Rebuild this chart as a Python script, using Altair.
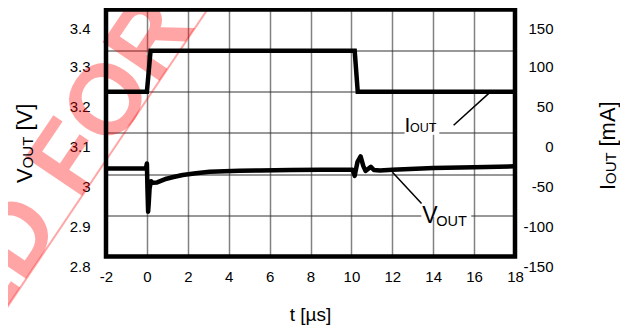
import altair as alt
import pandas as pd

FONT = "Liberation Sans"

# ---- data ----
t_iout = [-2.0, 0.0, 0.18, 10.16, 10.31, 18.0]
iout_ma = [50, 50, 100, 100, 50, 50]

t_vout = [-2.0, -0.05, 0.0, 0.03, 0.06, 0.09, 0.13, 0.2, 0.28, 0.5, 0.96, 1.3,
          1.75, 2.4, 3.07, 4.53, 5.51, 7.0, 8.5, 10.06, 10.16, 10.3, 10.45,
          10.58, 10.69, 10.8, 10.95, 11.1, 11.4, 12.0, 14.0, 16.0, 18.0]
vout_v = [3.014, 3.014, 3.026, 2.96, 2.909, 2.93, 2.965, 2.983, 2.979, 2.98,
          2.989, 2.993, 2.998, 3.002, 3.006, 3.008, 3.009, 3.010, 3.011, 3.0105,
          2.996, 3.03, 3.043, 3.02, 3.008, 3.012, 3.018, 3.01, 3.009, 3.011,
          3.015, 3.017, 3.019]

x_ticks = [-2, 0, 2, 4, 6, 8, 10, 12, 14, 16, 18]
v_ticks = [2.8, 2.9, 3.0, 3.1, 3.2, 3.3, 3.4]
i_ticks = [-150, -100, -50, 0, 50, 100, 150]

# annotation labels (data coordinates)
ann_text = ["I", "OUT", "V", "OUT"]
ann_t = [12.6, 12.87, 13.47, 14.15]
ann_v = [3.102, 3.102, 2.8814, 2.874]
ann_size = [21, 12.5, 23, 14.5]

lead_t1 = [15.0, 12.01]
lead_v1 = [3.1188, 3.0044]
lead_t2 = [16.84, 13.43]
lead_v2 = [3.2016, 2.929]

mask_t1 = [12.6, 13.42]
mask_t2 = [14.3, 15.86]
mask_v1 = [3.096, 2.896]
mask_v2 = [3.104, 2.904]

# ---- tables ----
df_i = pd.DataFrame({"t": t_iout, "i": iout_ma})
df_v = pd.DataFrame({"t": t_vout, "v": vout_v})
df_ann = pd.DataFrame({"t": ann_t, "v": ann_v, "txt": ann_text, "fs": ann_size})
df_lead = pd.DataFrame({"t1": lead_t1, "v1": lead_v1, "t2": lead_t2, "v2": lead_v2})
df_mask = pd.DataFrame({"t1": mask_t1, "t2": mask_t2, "v1": mask_v1, "v2": mask_v2})
one = pd.DataFrame({"a": [0]})

W, H = 409, 247

x_scale = alt.Scale(domain=[-2, 18], nice=False, zero=False)
v_scale = alt.Scale(domain=[2.8, 3.4], nice=False, zero=False)
i_scale = alt.Scale(domain=[-150, 150], nice=False, zero=False)

HYPHEN = "datum.value < 0 ? '-' + abs(datum.value) : '' + datum.value"

x_axis = alt.Axis(values=x_ticks, grid=True, gridColor="#808080", gridWidth=1.5,
                  domain=False, ticks=False, labelFontSize=15, labelPadding=13,
                  labelFont=FONT, labelColor="black", title=None,
                  labelFlush=False, labelOverlap=False, labelExpr=HYPHEN)
v_axis = alt.Axis(values=v_ticks, grid=True, gridColor="#333333", gridWidth=1,
                  domain=False, ticks=False, labelFontSize=15, labelPadding=16,
                  labelFont=FONT, labelColor="black", title=None,
                  labelFlush=False, labelOverlap=False,
                  labelExpr="abs(datum.value - 3) < 1e-9 ? '3' : format(datum.value, '.1f')",
                  labelOffset=alt.ExprRef("10 + (datum.value - 2.8) * 10.8 + (datum.value > 3.35 ? 2.5 : 0)"))
i_axis = alt.Axis(values=i_ticks, orient="right", grid=False, domain=False,
                  ticks=False, labelFontSize=15, labelPadding=38,
                  labelAlign="right", labelFont=FONT, labelColor="black",
                  title=None, labelFlush=False, labelOverlap=False, labelExpr=HYPHEN,
                  labelOffset=alt.ExprRef("10 + (datum.value + 150) * 0.0216 + (datum.value > 125 ? 2.5 : 0)"))

X = alt.X("t:Q", scale=x_scale, axis=x_axis)

PINK = "#ff0000"

watermark = alt.Chart(one).mark_text(
    text="ED FOR NEW", angle=304, align="left", baseline="alphabetic",
    fontSize=100, fontWeight="bold", font=FONT, color=PINK, opacity=0.35
).encode(x=alt.value(-121), y=alt.value(330))

wm_line = alt.Chart(one).mark_rule(color=PINK, opacity=0.35, strokeWidth=2).encode(
    x=alt.value(-126), y=alt.value(338), x2=alt.value(126), y2=alt.value(-36.5))

vline = alt.Chart(df_v).mark_line(color="black", strokeWidth=4.5, strokeJoin="round").encode(
    x=X, y=alt.Y("v:Q", scale=v_scale, axis=v_axis))

masks = alt.Chart(df_mask).mark_rect(color="white").encode(
    x="t1:Q", x2="t2:Q", y=alt.Y("v1:Q", scale=v_scale), y2="v2:Q")

leads = alt.Chart(df_lead).mark_rule(color="black", strokeWidth=1.5).encode(
    x="t1:Q", x2="t2:Q", y=alt.Y("v1:Q", scale=v_scale), y2="v2:Q")

ann = alt.Chart(df_ann).mark_text(align="left", baseline="alphabetic", font=FONT,
                                  color="black").encode(
    x="t:Q", y=alt.Y("v:Q", scale=v_scale), text="txt:N",
    size=alt.Size("fs:Q", scale=None, legend=None))

def ptext(txt, x, y, fs, angle=0, align="left", baseline="alphabetic"):
    kw = dict(text=txt, align=align, baseline=baseline, fontSize=fs, font=FONT,
              color="black")
    if angle:
        kw["angle"] = angle
    return alt.Chart(one).mark_text(**kw).encode(x=alt.value(x), y=alt.value(y))

titles = [
    ptext("t [\u00b5s]", 204.5, 311, 19, align="center"),
    ptext("V", -74, 173.5, 22, angle=270),
    ptext("OUT", -73, 158.8, 15, angle=270),
    ptext("[V]", -74, 121, 22, angle=270),
    ptext("I", 509, 180.5, 22, angle=270),
    ptext("OUT", 510, 174.4, 15, angle=270),
    ptext("[mA]", 509, 137, 22, angle=270),
]

left = alt.layer(watermark, wm_line, vline, masks, leads, ann, *titles)

iline = alt.Chart(df_i).mark_line(color="black", strokeWidth=4.5, strokeJoin="miter").encode(
    x=X, y=alt.Y("i:Q", scale=i_scale, axis=i_axis))

frame = alt.Chart(one).mark_rect(fillOpacity=0, stroke="black", strokeWidth=4.5).encode(
    x=alt.value(0), x2=alt.value(W), y=alt.value(0), y2=alt.value(H))

chart = alt.layer(left, iline, frame).resolve_scale(y="independent").properties(
    width=W, height=H, background="white",
    autosize=alt.AutoSizeParams(type="none"),
    padding={"left": 98, "top": 1.5, "right": 105, "bottom": 70},
).configure_view(stroke=None if False else "black", strokeWidth=0)

chart.save("out.html", embed_options={"renderer": "svg", "actions": False})
